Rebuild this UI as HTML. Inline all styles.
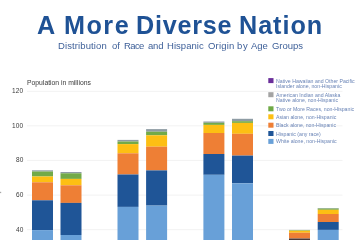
<!DOCTYPE html>
<html><head><meta charset="utf-8"><style>
html,body{margin:0;padding:0;background:#fff;width:362px;height:240px;overflow:hidden;position:relative}
div{position:absolute;white-space:nowrap;font-family:"Liberation Sans",sans-serif;line-height:1;will-change:transform}
.t{left:37.5px;top:12.7px;font-size:25.2px;font-weight:bold;color:#1f5295;letter-spacing:1.05px;word-spacing:0.5px}
.s{left:57.5px;top:40.6px;font-size:9.5px;color:#3d5f98;letter-spacing:0.2px}
.p{left:26.6px;top:80.2px;font-size:6.8px;color:#3a3a3a}
.yl{right:338.8px;font-size:6.5px;color:#3a3a3a;letter-spacing:0.15px}
.lt{left:276px;font-size:5.2px;color:#6a84b6}
svg{position:absolute;left:0;top:0}
</style></head><body>
<svg width="362" height="240" viewBox="0 0 362 240"><rect x="27" y="90.80" width="315.5" height="1" fill="#f2f2f2"/><rect x="27" y="125.30" width="315.5" height="1" fill="#f2f2f2"/><rect x="27" y="159.90" width="315.5" height="1" fill="#f2f2f2"/><rect x="27" y="194.60" width="315.5" height="1" fill="#f2f2f2"/><rect x="27" y="229.20" width="315.5" height="1" fill="#f2f2f2"/><rect x="32" y="170.3" width="21" height="1.20" fill="#8e9ca4"/><rect x="32" y="171.5" width="21" height="5.00" fill="#72aa48"/><rect x="32" y="176.5" width="21" height="5.80" fill="#fdbf13"/><rect x="32" y="182.3" width="21" height="18.00" fill="#ee7f35"/><rect x="32" y="200.3" width="21" height="29.80" fill="#1f5597"/><rect x="32" y="230.1" width="21" height="14.90" fill="#68a0d8"/><rect x="60.5" y="172.0" width="21" height="1.30" fill="#8e9ca4"/><rect x="60.5" y="173.3" width="21" height="5.60" fill="#72aa48"/><rect x="60.5" y="178.9" width="21" height="6.40" fill="#fdbf13"/><rect x="60.5" y="185.3" width="21" height="17.60" fill="#ee7f35"/><rect x="60.5" y="202.9" width="21" height="32.10" fill="#1f5597"/><rect x="60.5" y="235.0" width="21" height="10.00" fill="#68a0d8"/><rect x="117.5" y="139.9" width="21" height="1.60" fill="#8e9ca4"/><rect x="117.5" y="141.5" width="21" height="2.60" fill="#72aa48"/><rect x="117.5" y="144.1" width="21" height="9.20" fill="#fdbf13"/><rect x="117.5" y="153.3" width="21" height="21.20" fill="#ee7f35"/><rect x="117.5" y="174.5" width="21" height="32.40" fill="#1f5597"/><rect x="117.5" y="206.9" width="21" height="38.10" fill="#68a0d8"/><rect x="146.1" y="129.1" width="21" height="2.60" fill="#8e9ca4"/><rect x="146.1" y="131.7" width="21" height="3.60" fill="#72aa48"/><rect x="146.1" y="135.3" width="21" height="11.40" fill="#fdbf13"/><rect x="146.1" y="146.7" width="21" height="23.70" fill="#ee7f35"/><rect x="146.1" y="170.4" width="21" height="35.20" fill="#1f5597"/><rect x="146.1" y="205.6" width="21" height="39.40" fill="#68a0d8"/><rect x="203.4" y="121.5" width="21" height="1.30" fill="#8e9ca4"/><rect x="203.4" y="122.8" width="21" height="2.10" fill="#72aa48"/><rect x="203.4" y="124.9" width="21" height="8.10" fill="#fdbf13"/><rect x="203.4" y="133.0" width="21" height="21.00" fill="#ee7f35"/><rect x="203.4" y="154.0" width="21" height="20.80" fill="#1f5597"/><rect x="203.4" y="174.8" width="21" height="70.20" fill="#68a0d8"/><rect x="232" y="118.8" width="21" height="2.40" fill="#8e9ca4"/><rect x="232" y="121.2" width="21" height="1.70" fill="#72aa48"/><rect x="232" y="122.9" width="21" height="10.90" fill="#fdbf13"/><rect x="232" y="133.8" width="21" height="21.80" fill="#ee7f35"/><rect x="232" y="155.6" width="21" height="27.70" fill="#1f5597"/><rect x="232" y="183.3" width="21" height="61.70" fill="#68a0d8"/><rect x="289" y="229.9" width="21" height="0.30" fill="#8e9ca4"/><rect x="289" y="230.2" width="21" height="0.55" fill="#72aa48"/><rect x="289" y="230.75" width="21" height="2.00" fill="#fdbf13"/><rect x="289" y="232.75" width="21" height="5.75" fill="#ee7f35"/><rect x="289" y="238.5" width="21" height="2.50" fill="#4a3a3a"/><rect x="289" y="241" width="21" height="4.00" fill="#68a0d8"/><rect x="317.7" y="208.0" width="21" height="0.60" fill="#8e9ca4"/><rect x="317.7" y="208.6" width="21" height="1.20" fill="#72aa48"/><rect x="317.7" y="209.8" width="21" height="4.20" fill="#fdbf13"/><rect x="317.7" y="214.0" width="21" height="8.00" fill="#ee7f35"/><rect x="317.7" y="222.0" width="21" height="7.90" fill="#1f5597"/><rect x="317.7" y="229.9" width="21" height="15.10" fill="#68a0d8"/><rect x="268.3" y="78.1" width="5.2" height="5" fill="#6a2e9a"/><rect x="268.3" y="92.2" width="5.2" height="5" fill="#a3a3a3"/><rect x="268.3" y="106.3" width="5.2" height="5" fill="#6faa46"/><rect x="268.3" y="114.3" width="5.2" height="5" fill="#fdbf13"/><rect x="268.3" y="122.7" width="5.2" height="5" fill="#ee7f35"/><rect x="268.3" y="131.0" width="5.2" height="5" fill="#1f5597"/><rect x="268.3" y="138.9" width="5.2" height="5" fill="#68a0d8"/><rect x="0" y="191.8" width="1.2" height="1.3" fill="#a8a8a8"/></svg>
<div class="t" style="left:37px">A</div><div class="t" style="left:64px;letter-spacing:1.5px">More</div><div class="t" style="left:136px;letter-spacing:0.75px">Diverse</div><div class="t" style="left:239px;letter-spacing:0.95px">Nation</div>
<div class="s" style="left:57.65px;letter-spacing:0.11px">Distribution</div><div class="s" style="left:111.50px;letter-spacing:0.00px">of</div><div class="s" style="left:124.15px;letter-spacing:-0.60px">Race</div><div class="s" style="left:147.75px;letter-spacing:-0.20px">and</div><div class="s" style="left:167.00px;letter-spacing:0.05px">Hispanic</div><div class="s" style="left:207.85px;letter-spacing:0.18px">Origin</div><div class="s" style="left:237.40px;letter-spacing:0.60px">by</div><div class="s" style="left:250.75px;letter-spacing:-0.05px">Age</div><div class="s" style="left:271.55px;letter-spacing:-0.02px">Groups</div>
<div class="p">Population in millions</div>
<div class="yl" style="top:88.20px">120</div><div class="yl" style="top:122.70px">100</div><div class="yl" style="top:157.30px">80</div><div class="yl" style="top:192.00px">60</div><div class="yl" style="top:226.60px">40</div>
<div class="lt" style="top:78.60px">Native Hawaiian and Other Pacific</div><div class="lt" style="top:84.10px">Islander alone, non-Hispanic</div><div class="lt" style="top:92.70px">American Indian and Alaska</div><div class="lt" style="top:98.20px">Native alone, non-Hispanic</div><div class="lt" style="top:106.80px">Two or More Races, non-Hispanic</div><div class="lt" style="top:114.80px">Asian alone, non-Hispanic</div><div class="lt" style="top:123.20px">Black alone, non-Hispanic</div><div class="lt" style="top:131.50px">Hispanic (any race)</div><div class="lt" style="top:139.40px">White alone, non-Hispanic</div>
</body></html>
